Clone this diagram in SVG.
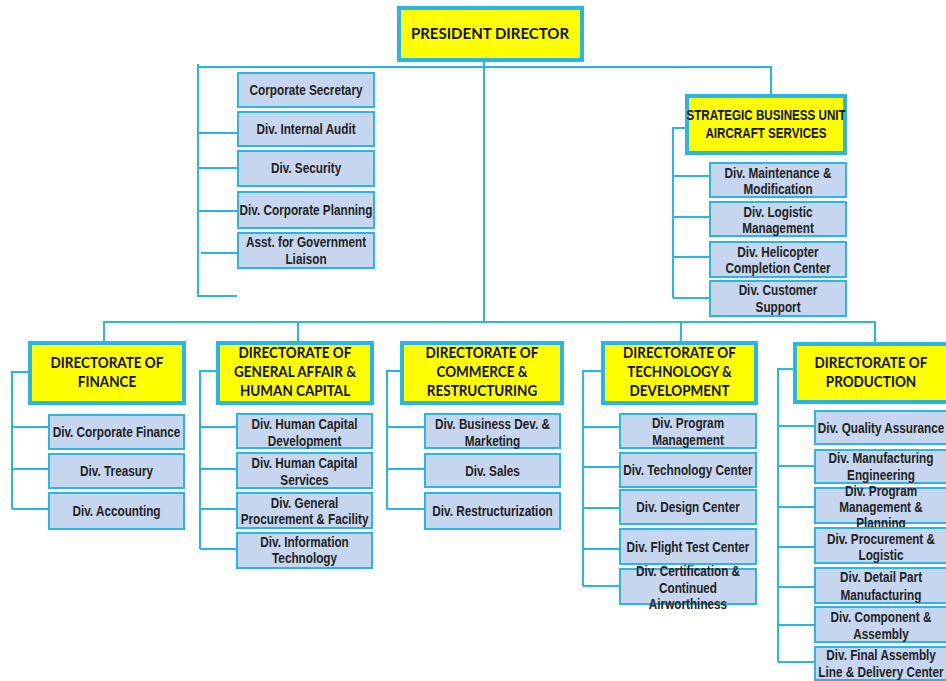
<svg xmlns="http://www.w3.org/2000/svg" width="946" height="681" viewBox="0 0 946 681">
<style>
.c{fill:none;stroke:#29b5e8;stroke-width:2}
.h rect{fill:#ffff00;stroke:#29b5e8;stroke-width:4}
.d rect{fill:#c6d6ef;stroke:#29b5e8;stroke-width:2}
.h text{font-family:"Lato","Liberation Sans",sans-serif;font-weight:bold;font-size:15px;fill:#111;text-anchor:middle;transform-box:fill-box;transform-origin:center;transform:scaleX(0.9)}
#president text{transform:none}
.d text{font-family:"Liberation Sans",Arial,sans-serif;font-weight:bold;font-size:14px;fill:#222;text-anchor:middle;transform-box:fill-box;transform-origin:center;transform:scaleX(0.84)}
.h text.s{font-family:"Liberation Sans",Arial,sans-serif;font-size:14px;transform:scaleX(0.83)}
</style>
<rect width="946" height="681" fill="#fff"/>
<g id="connectors" class="c">
<path d="M484 61V322"/>
<path d="M198 67H771V95"/>
<path d="M198 64V297M198 133H238M198 168H238M198 211H238M201 253H238M198 296H237"/>
<path d="M686 128H673V298M673 176H710M673 217H710M673 257H710M673 298H710"/>
<path d="M104 342V322H875V343M298 322V342M681 322V342"/>
<path d="M29 372H12V509M12 427H49M12 469H49M12 509H49"/>
<path d="M217 371H200V549M200 427H237M200 469H237M200 509H237M200 549H237"/>
<path d="M401 371H387V509M387 427H425M387 469H425M387 509H425"/>
<path d="M602 371H583V586M583 427H620M583 467H620M583 508H620M583 549H620M583 586H620"/>
<path d="M794 369H778V662M778 426H815M778 466H815M778 507H815M778 547H815M778 587H815M778 625H815M778 662H815"/>
</g>
<g id="president" class="h"><rect x="399" y="8" width="183" height="52"/><text x="490" y="39">PRESIDENT DIRECTOR</text></g>
<g id="corp-secretary" class="d"><rect x="238" y="73" width="136" height="34"/><text x="306" y="95">Corporate Secretary</text></g>
<g id="internal-audit" class="d"><rect x="238" y="112" width="136" height="34"/><text x="306" y="134">Div. Internal Audit</text></g>
<g id="security" class="d"><rect x="238" y="151" width="136" height="35"/><text x="306" y="173">Div. Security</text></g>
<g id="corp-planning" class="d"><rect x="238" y="192" width="136" height="36"/><text x="306" y="215">Div. Corporate Planning</text></g>
<g id="gov-liaison" class="d"><rect x="238" y="233" width="136" height="35"/><text x="306" y="247">Asst. for Government</text><text x="306" y="264">Liaison</text></g>
<g id="sbu" class="h"><rect x="687" y="96" width="158" height="57"/><text class="s" x="766" y="120">STRATEGIC BUSINESS UNIT</text><text class="s" x="766" y="138">AIRCRAFT SERVICES</text></g>
<g id="maintenance" class="d"><rect x="710" y="163" width="136" height="34"/><text x="778" y="178">Div. Maintenance &amp;</text><text x="778" y="194">Modification</text></g>
<g id="logistic" class="d"><rect x="710" y="202" width="136" height="34"/><text x="778" y="217">Div. Logistic</text><text x="778" y="233">Management</text></g>
<g id="helicopter" class="d"><rect x="710" y="242" width="136" height="35"/><text x="778" y="257">Div. Helicopter</text><text x="778" y="273">Completion Center</text></g>
<g id="customer-support" class="d"><rect x="710" y="281" width="136" height="35"/><text x="778" y="295">Div. Customer</text><text x="778" y="312">Support</text></g>
<g id="finance" class="h"><rect x="30" y="343" width="154" height="60"/><text x="107" y="368">DIRECTORATE OF</text><text x="107" y="387">FINANCE</text></g>
<g id="corp-finance" class="d"><rect x="49" y="415" width="135" height="34"/><text x="116.5" y="437">Div. Corporate Finance</text></g>
<g id="treasury" class="d"><rect x="49" y="454" width="135" height="34"/><text x="116.5" y="476">Div. Treasury</text></g>
<g id="accounting" class="d"><rect x="49" y="493" width="135" height="36"/><text x="116.5" y="516">Div. Accounting</text></g>
<g id="general-affair" class="h"><rect x="218" y="343" width="154" height="60"/><text x="295" y="358">DIRECTORATE OF</text><text x="295" y="377">GENERAL AFFAIR &amp;</text><text x="295" y="396">HUMAN CAPITAL</text></g>
<g id="hc-development" class="d"><rect x="237" y="414" width="135" height="34"/><text x="304.5" y="429">Div. Human Capital</text><text x="304.5" y="446">Development</text></g>
<g id="hc-services" class="d"><rect x="237" y="453" width="135" height="35"/><text x="304.5" y="468">Div. Human Capital</text><text x="304.5" y="485">Services</text></g>
<g id="general-procurement" class="d"><rect x="237" y="493" width="135" height="35"/><text x="304.5" y="508">Div. General</text><text x="304.5" y="524">Procurement &amp; Facility</text></g>
<g id="information-technology" class="d"><rect x="237" y="533" width="135" height="35"/><text x="304.5" y="547">Div. Information</text><text x="304.5" y="563">Technology</text></g>
<g id="commerce" class="h"><rect x="402" y="343" width="160" height="60"/><text x="482" y="358">DIRECTORATE OF</text><text x="482" y="377">COMMERCE &amp;</text><text x="482" y="396">RESTRUCTURING</text></g>
<g id="business-dev" class="d"><rect x="425" y="414" width="135" height="34"/><text x="492.5" y="429">Div. Business Dev. &amp;</text><text x="492.5" y="446">Marketing</text></g>
<g id="sales" class="d"><rect x="425" y="454" width="135" height="33"/><text x="492.5" y="476">Div. Sales</text></g>
<g id="restructurization" class="d"><rect x="425" y="493" width="135" height="36"/><text x="492.5" y="516">Div. Restructurization</text></g>
<g id="technology" class="h"><rect x="603" y="343" width="153" height="60"/><text x="679.5" y="358">DIRECTORATE OF</text><text x="679.5" y="377">TECHNOLOGY &amp;</text><text x="679.5" y="396">DEVELOPMENT</text></g>
<g id="program-management" class="d"><rect x="620" y="414" width="136" height="34"/><text x="688" y="428">Div. Program</text><text x="688" y="445">Management</text></g>
<g id="technology-center" class="d"><rect x="620" y="453" width="136" height="34"/><text x="688" y="475">Div. Technology Center</text></g>
<g id="design-center" class="d"><rect x="620" y="490" width="136" height="34"/><text x="688" y="512">Div. Design Center</text></g>
<g id="flight-test" class="d"><rect x="620" y="529" width="136" height="35"/><text x="688" y="552">Div. Flight Test Center</text></g>
<g id="certification" class="d"><rect x="620" y="569" width="136" height="35"/><text x="688" y="576">Div. Certification &amp;</text><text x="688" y="593">Continued</text><text x="688" y="609">Airworthiness</text></g>
<g id="production" class="h"><rect x="795" y="344" width="154" height="58"/><text x="871" y="368">DIRECTORATE OF</text><text x="871" y="387">PRODUCTION</text></g>
<g id="quality-assurance" class="d"><rect x="815" y="411" width="133" height="33"/><text x="881" y="433">Div. Quality Assurance</text></g>
<g id="manufacturing-eng" class="d"><rect x="815" y="450" width="133" height="33"/><text x="881" y="463">Div. Manufacturing</text><text x="881" y="480">Engineering</text></g>
<g id="program-planning" class="d"><rect x="815" y="488" width="133" height="35"/><text x="881" y="496">Div. Program</text><text x="881" y="512">Management &amp;</text><text x="881" y="528">Planning</text></g>
<g id="procurement-logistic" class="d"><rect x="815" y="528" width="133" height="35"/><text x="881" y="544">Div. Procurement &amp;</text><text x="881" y="560">Logistic</text></g>
<g id="detail-part" class="d"><rect x="815" y="568" width="133" height="35"/><text x="881" y="582">Div. Detail Part</text><text x="881" y="600">Manufacturing</text></g>
<g id="component-assembly" class="d"><rect x="815" y="607" width="133" height="35"/><text x="881" y="622">Div. Component &amp;</text><text x="881" y="639">Assembly</text></g>
<g id="final-assembly" class="d"><rect x="815" y="647" width="133" height="33"/><text x="881" y="660">Div. Final Assembly</text><text x="881" y="677">Line &amp; Delivery Center</text></g>
</svg>
